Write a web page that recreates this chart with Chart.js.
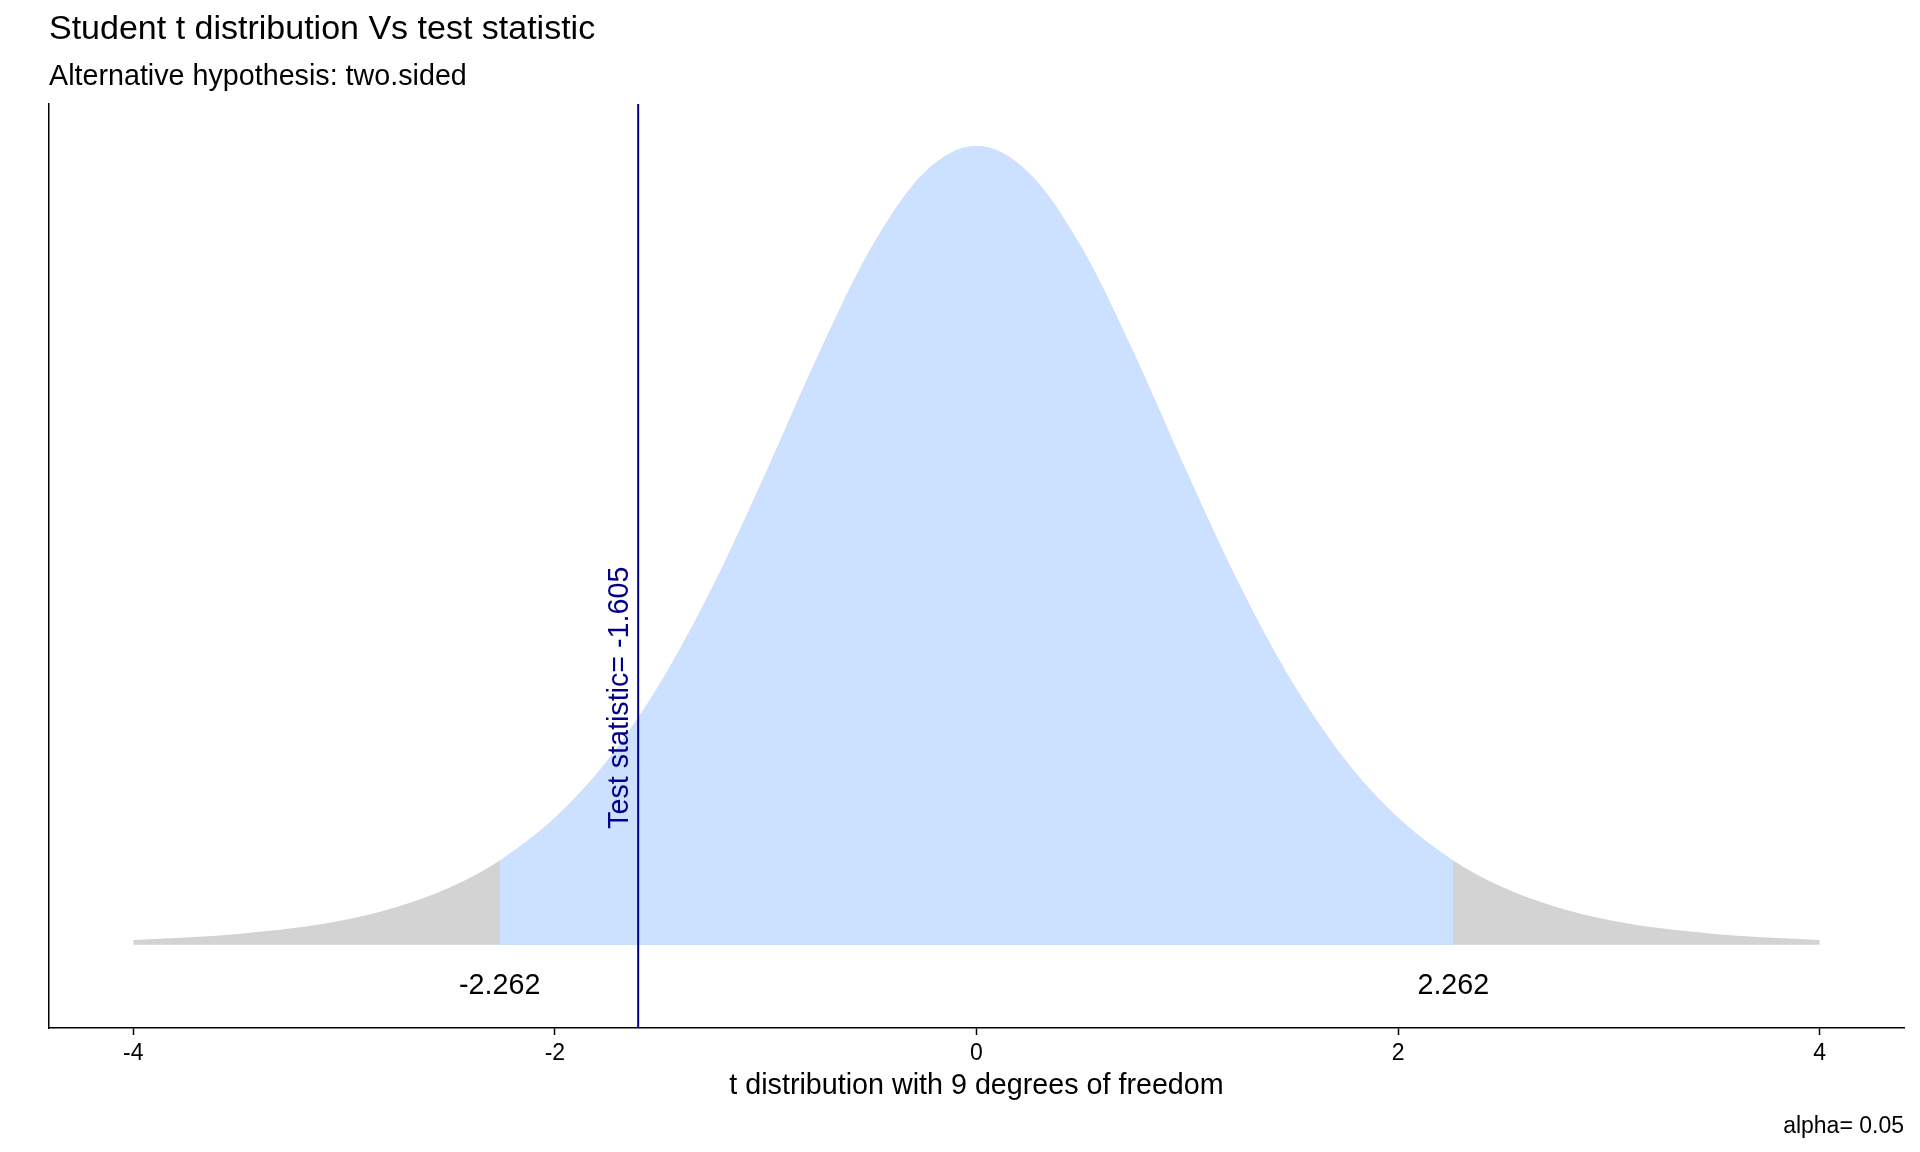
<!DOCTYPE html>
<html lang="en">
<head>
  <meta charset="UTF-8" />
  <title>Student t distribution Vs test statistic</title>
  <script src="https://cdn.jsdelivr.net/npm/chart.js"></script>
  <style>
    body {
      margin: 0;
      background: #fff;
    }
    canvas {
      display: block;
    }
  </style>
</head>
<body>
  <canvas id="chart" width="1920" height="1152"></canvas>

  <script>
    // t values and density (9 degrees of freedom)
    const tValues = [-4, -3.75, -3.5, -3.25, -3, -2.75, -2.5, -2.25, -2, -1.75, -1.5, -1.25, -1, -0.75, -0.5, -0.25,
      0, 0.25, 0.5, 0.75, 1, 1.25, 1.5, 1.75, 2, 2.25, 2.5, 2.75, 3, 3.25, 3.5, 3.75, 4];
    const density = [0.0023, 0.0035, 0.0053, 0.0080, 0.0121, 0.0184, 0.0278, 0.0417, 0.0617, 0.0897, 0.1272, 0.1743,
      0.2291, 0.2866, 0.3384, 0.3748, 0.3880, 0.3748, 0.3384, 0.2866, 0.2291, 0.1743, 0.1272, 0.0897, 0.0617, 0.0417,
      0.0278, 0.0184, 0.0121, 0.0080, 0.0053, 0.0035, 0.0023];

    // acceptance region between the critical values
    const acceptT = [-2.262, -2.25, -2, -1.75, -1.5, -1.25, -1, -0.75, -0.5, -0.25, 0,
      0.25, 0.5, 0.75, 1, 1.25, 1.5, 1.75, 2, 2.25, 2.262];
    const acceptDensity = [0.0409, 0.0417, 0.0617, 0.0897, 0.1272, 0.1743, 0.2291, 0.2866, 0.3384, 0.3748, 0.3880,
      0.3748, 0.3384, 0.2866, 0.2291, 0.1743, 0.1272, 0.0897, 0.0617, 0.0417, 0.0409];

    const criticalValues = [-2.262, 2.262];
    const criticalLabelY = -0.02;
    const testStatistic = -1.605;
    const statLabelX = -1.69;
    const statLabelY = 0.12;
    const xTicks = [-4, -2, 0, 2, 4];
    const xRange = [-4.4, 4.4];
    const yRange = [-0.0404, 0.4084];

    const FONT = '"Liberation Sans", Arial, sans-serif';
    const NAVY = '#00008B';

    const toPoints = (xs, ys) => xs.map((x, i) => ({ x, y: ys[i] }));

    const textPlugin = {
      id: 'texts',
      afterDraw(chart) {
        const ctx = chart.ctx;
        const area = chart.chartArea;
        const sx = chart.scales.x;
        const sy = chart.scales.y;
        ctx.save();
        ctx.fillStyle = '#000';
        ctx.textBaseline = 'alphabetic';

        ctx.textAlign = 'left';
        ctx.font = '34px ' + FONT;
        ctx.fillText('Student t distribution Vs test statistic', area.left, 39);
        ctx.font = '28.7px ' + FONT;
        ctx.fillText('Alternative hypothesis: two.sided', area.left, 85);

        ctx.textAlign = 'center';
        ctx.fillText('t distribution with 9 degrees of freedom', (area.left + area.right) / 2, 1094);

        ctx.textAlign = 'right';
        ctx.font = '23px ' + FONT;
        ctx.fillText('alpha= 0.05', area.right, 1133);

        // critical value labels
        ctx.textAlign = 'center';
        ctx.textBaseline = 'middle';
        ctx.font = '28.7px ' + FONT;
        criticalValues.forEach(v => {
          ctx.fillText(v.toFixed(3), sx.getPixelForValue(v), sy.getPixelForValue(criticalLabelY));
        });

        // test statistic label
        ctx.fillStyle = NAVY;
        ctx.translate(sx.getPixelForValue(statLabelX), sy.getPixelForValue(statLabelY));
        ctx.rotate(-Math.PI / 2);
        ctx.fillText('Test statistic= ' + testStatistic.toFixed(3), 0, 0);
        ctx.restore();
      }
    };

    new Chart(document.getElementById('chart').getContext('2d'), {
      type: 'line',
      data: {
        datasets: [
          {
            label: 'test statistic',
            data: [{ x: testStatistic, y: yRange[0] }, { x: testStatistic, y: yRange[1] }],
            borderColor: NAVY,
            borderWidth: 2,
            pointRadius: 0,
            fill: false,
            order: 1
          },
          {
            label: 'acceptance',
            data: toPoints(acceptT, acceptDensity),
            borderWidth: 0,
            borderColor: 'rgba(0,0,0,0)',
            backgroundColor: '#CCE0FF',
            pointRadius: 0,
            fill: 'origin',
            cubicInterpolationMode: 'monotone',
            order: 2
          },
          {
            label: 'density',
            data: toPoints(tValues, density),
            borderWidth: 0,
            borderColor: 'rgba(0,0,0,0)',
            backgroundColor: '#D3D3D3',
            pointRadius: 0,
            fill: 'origin',
            cubicInterpolationMode: 'monotone',
            order: 3
          }
        ]
      },
      options: {
        responsive: false,
        animation: false,
        devicePixelRatio: 1,
        layout: { padding: { left: 49, right: 16, top: 104, bottom: 0 } },
        plugins: {
          legend: { display: false },
          tooltip: { enabled: false }
        },
        scales: {
          x: {
            type: 'linear',
            min: xRange[0],
            max: xRange[1],
            afterBuildTicks: scale => { scale.ticks = xTicks.map(v => ({ value: v })); },
            afterFit: scale => { scale.height = 124; },
            grid: {
              display: true,
              drawOnChartArea: false,
              drawTicks: true,
              tickLength: 7,
              tickWidth: 1.5,
              tickColor: '#000'
            },
            border: { display: true, color: '#000', width: 1.5 },
            ticks: {
              color: '#000',
              padding: 5,
              maxRotation: 0,
              font: { family: FONT, size: 23 }
            }
          },
          y: {
            type: 'linear',
            min: yRange[0],
            max: yRange[1],
            afterFit: scale => { scale.width = 0; },
            grid: { display: false },
            border: { display: true, color: '#000', width: 1.5 },
            ticks: { display: false }
          }
        }
      },
      plugins: [textPlugin]
    });
  </script>
</body>
</html>
